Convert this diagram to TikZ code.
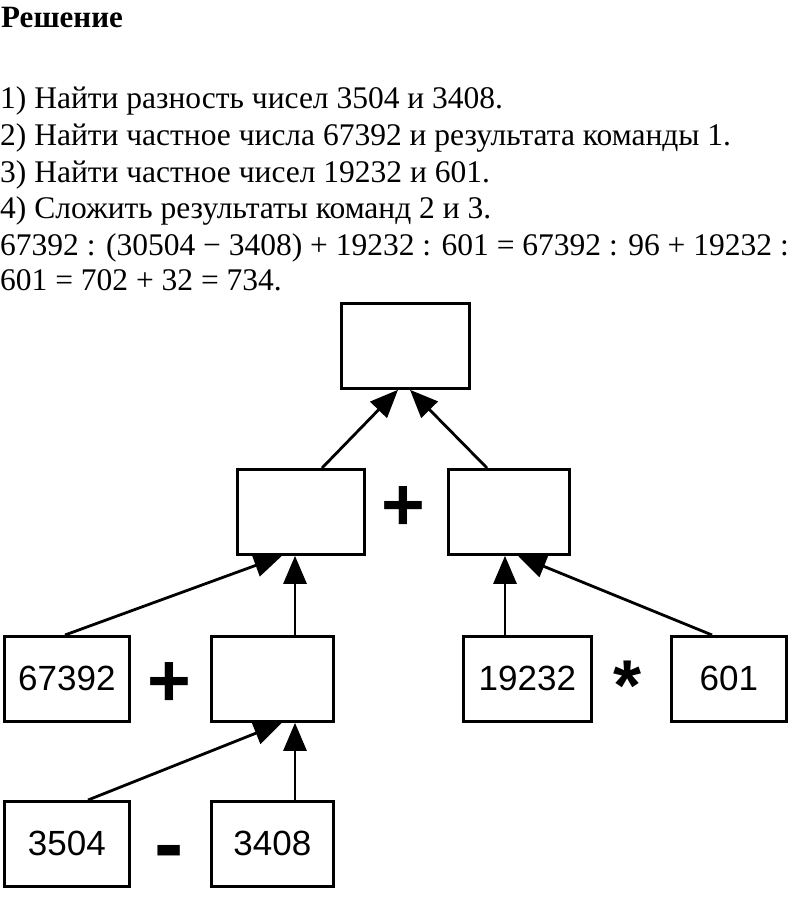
\documentclass[tikz,border=0pt]{standalone}
\usepackage{fontspec}
\setmainfont{Liberation Serif}
\newfontfamily\boxfont{Liberation Sans}
\usetikzlibrary{arrows.meta}
\tikzset{
  numbox/.style={draw=black, line width=2.8pt, minimum width=#1, minimum height=85pt, inner sep=0pt, font=\boxfont\fontsize{35}{38}\selectfont, anchor=north west},
  numbox/.default=125pt,
  link/.style={line width=2.8pt, -{Triangle[length=28pt,width=23pt]}},
  txt/.style={anchor=base west, inner sep=0pt, font=\fontsize{31.5}{34}\selectfont},
  opsign/.style={inner sep=0pt, font=\boxfont\bfseries\fontsize{75}{75}\selectfont}
}
\begin{document}
\begin{tikzpicture}[x=1pt,y=-1pt]
\useasboundingbox (0,0) rectangle (800,906);
\fill[white] (0,0) rectangle (800,906);
% text
\node[txt, font=\bfseries\fontsize{31}{34}\selectfont] (title) at (1,27) {Решение};
\node[txt] (l1) at (0,108) {1) Найти разность чисел 3504 и 3408.};
\node[txt] (l2) at (0,145) {2) Найти частное числа 67392 и результата команды 1.};
\node[txt] (l3) at (0,182) {3) Найти частное чисел 19232 и 601.};
\node[txt] (l4) at (0,218) {4) Сложить результаты команд 2 и 3.};
\node[txt] (l5) at (0,255) {67392 : (30504 − 3408) + 19232 : 601 = 67392 : 96 + 19232 :};
\node[txt] (l6) at (0,290) {601 = 702 + 32 = 734.};
% boxes
\node[numbox=128pt] (top) at (340,302) {};
\node[numbox=127pt] (ml) at (236,468) {};
\node[numbox=121pt] (mr) at (447,468) {};
\node[numbox=125pt] (a) at (3,635) {67392};
\node[numbox=122pt] (b) at (210,635) {};
\node[numbox=128pt] (c) at (462,635) {19232};
\node[numbox=115pt] (d) at (670,635) {601};
\node[numbox=125pt] (e) at (3,800) {3504};
\node[numbox=122pt] (f) at (210,800) {3408};
% operators
\node[opsign] (p1) at (403,508) {+};
\node[opsign] (p2) at (169,684) {+};
\node[opsign, font=\boxfont\bfseries\fontsize{72}{72}\selectfont] (st) at (628,686) {*};
\node[opsign, font=\boxfont\bfseries\fontsize{88}{88}\selectfont] (mn) at (169,859) {-};
% arrows
\draw[link] (ml.north -| 322,0) -- (top.south -| 398,0);
\draw[link] (mr.north -| 487,0) -- (top.south -| 410,0);
\draw[link] (a.north -| 65,0) -- (ml.south -| 282,0);
\draw[link] (b.north -| 295,0) -- (ml.south -| 295,0);
\draw[link] (c.north -| 505,0) -- (mr.south -| 505,0);
\draw[link] (d.north -| 712,0) -- (mr.south -| 518,0);
\draw[link] (e.north -| 88,0) -- (b.south -| 282,0);
\draw[link] (f.north -| 295,0) -- (b.south -| 295,0);
\end{tikzpicture}
\end{document}
